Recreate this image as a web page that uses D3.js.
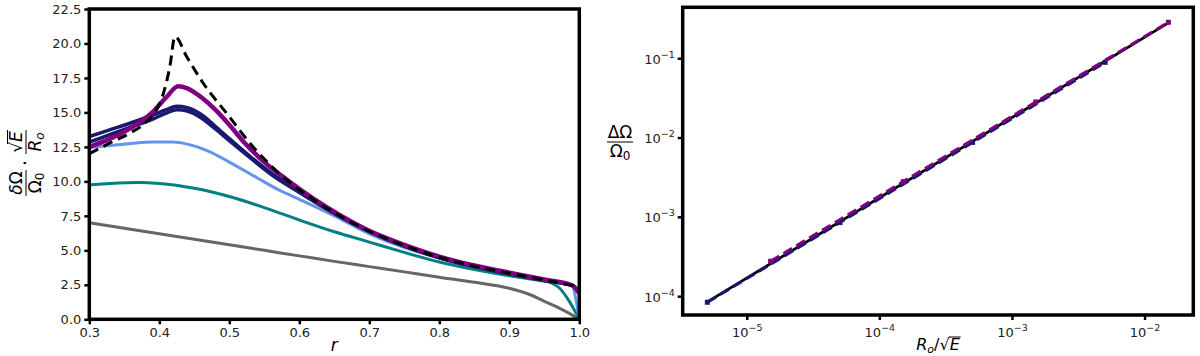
<!DOCTYPE html>
<html><head><meta charset="utf-8">
<script src="https://cdn.jsdelivr.net/npm/d3@7/dist/d3.min.js"></script>
<style>
body{margin:0;background:#fff;}
svg{display:block;font-family:"DejaVu Sans",sans-serif;}
</style></head>
<body>
<svg id="chart" width="1200" height="356"></svg>
<script>
// ---------- Left panel data ----------
const xTicksLeft = [0.3,0.4,0.5,0.6,0.7,0.8,0.9,1.0];
const yTicksLeft = [0,2.5,5,7.5,10,12.5,15,17.5,20,22.5];

const grayR = [0.30,0.35,0.40,0.45,0.50,0.55,0.60,0.65,0.70,0.75,0.80,0.85,0.90,0.93,0.95,0.97,0.985,1.00];
const grayV = [7.0,6.6,6.2,5.8,5.4,5.0,4.6,4.2,3.82,3.44,3.05,2.68,2.25,1.78,1.3,0.85,0.45,0.0];

const tealR = [0.30,0.33,0.37,0.40,0.45,0.50,0.55,0.60,0.65,0.70,0.75,0.80,0.85,0.90,0.93,0.95,0.96,0.972,0.986,1.00];
const tealV = [9.75,9.85,9.92,9.85,9.5,8.9,8.1,7.2,6.35,5.6,4.85,4.15,3.6,3.15,2.92,2.78,2.65,2.25,1.28,0.0];

const blueR = [0.30,0.33,0.36,0.39,0.42,0.44,0.47,0.50,0.54,0.57,0.60,0.65,0.70,0.75,0.80,0.85,0.90,0.95,0.98,0.99,0.995,1.00];
const blueV = [12.45,12.6,12.75,12.85,12.85,12.7,12.2,11.4,10.25,9.4,8.7,7.5,6.2,5.2,4.45,3.8,3.3,2.8,2.55,2.45,1.5,0.0];

const navyR = [0.30,0.33,0.36,0.39,0.41,0.425,0.44,0.46,0.48,0.50,0.53,0.56,0.60,0.65,0.70,0.75,0.80,0.85,0.90,0.95,0.99,1.00];
const navyAV = [13.25,13.75,14.25,14.8,15.2,15.45,15.35,14.85,14.0,13.1,11.8,10.6,9.25,7.7,6.38,5.32,4.47,3.82,3.3,2.82,2.45,1.85];
const navyBV = [12.85,13.4,13.95,14.5,14.95,15.2,15.1,14.6,13.8,12.95,11.7,10.5,9.2,7.68,6.36,5.3,4.46,3.81,3.3,2.82,2.45,1.85];

const purpleR = [0.30,0.33,0.36,0.39,0.41,0.427,0.44,0.46,0.48,0.50,0.52,0.55,0.58,0.62,0.66,0.70,0.75,0.80,0.85,0.90,0.95,0.99,1.00];
const purpleV = [12.5,13.1,13.9,15.0,16.1,16.9,16.75,16.1,15.2,14.1,12.9,11.4,10.2,8.75,7.5,6.42,5.4,4.55,3.9,3.38,2.88,2.45,1.95];

const dashR = [0.30,0.33,0.358,0.382,0.396,0.406,0.415,0.4224,0.439,0.463,0.496,0.534,0.582,0.62,0.66,0.70,0.75,0.80,0.85,0.90,0.95,1.00];
const dashV = [12.0,12.8,13.5,14.34,15.19,16.4,18.3,20.5,19.06,17.1,14.95,12.5,10.1,8.7,7.45,6.38,5.35,4.5,3.85,3.34,2.85,2.37];

// ---------- Right panel data ----------
const xTickExpRight = [-5,-4,-3,-2];
const yTickExpRight = [-4,-3,-2,-1];
const navyX = [5e-6,5e-5,5e-4,5e-3];
const navyY = [8.5e-5,8.6e-4,8.8e-3,9.0e-2];
const purpleX = [1.5e-5,1.5e-4,1.5e-3,1.5e-2];
const purpleY = [2.8e-4,2.82e-3,2.85e-2,0.288];
const theoryX = [5e-6,1.5e-2];
const theoryY = [8.6e-5,0.283];

const svg = d3.select("#chart");

// ================= LEFT PANEL =================
const L = {x0:89.3, x1:579.3, y0:9, y1:319.3};
const xL = d3.scaleLinear().domain([0.3,1.0]).range([L.x0,L.x1]);
const yL = d3.scaleLinear().domain([0,22.5]).range([L.y1,L.y0]);
const gL = svg.append("g");
svg.append("clipPath").attr("id","clipL").append("rect")
  .attr("x",L.x0).attr("y",L.y0).attr("width",L.x1-L.x0).attr("height",L.y1-L.y0+2);

const lineL = d3.line().x(d=>xL(d[0])).y(d=>yL(d[1])).curve(d3.curveMonotoneX);
function zip(a,b){return a.map((v,i)=>[v,b[i]]);}
const seriesL = [
  {r:grayR, v:grayV, c:"#666666", w:3},
  {r:tealR, v:tealV, c:"#008080", w:3},
  {r:blueR, v:blueV, c:"#6495ED", w:3},
  {r:navyR, v:navyAV, c:"#191970", w:3.5},
  {r:navyR, v:navyBV, c:"#191970", w:3.5},
  {r:purpleR, v:purpleV, c:"#800080", w:4.5},
  {r:dashR, v:dashV, c:"#000000", w:3, dash:"10,6"}
];
const plotL = gL.append("g").attr("clip-path","url(#clipL)");
seriesL.forEach(s=>{
  plotL.append("path").attr("d",lineL(zip(s.r,s.v)))
    .attr("fill","none").attr("stroke",s.c).attr("stroke-width",s.w)
    .attr("stroke-dasharray",s.dash||null).attr("stroke-linejoin","round");
});

const axBL = gL.append("g").attr("transform",`translate(0,${L.y1})`)
  .call(d3.axisBottom(xL).tickValues(xTicksLeft).tickFormat(d3.format(".1f")).tickSize(5).tickPadding(3));
const axLL = gL.append("g").attr("transform",`translate(${L.x0},0)`)
  .call(d3.axisLeft(yL).tickValues(yTicksLeft).tickFormat(d3.format(".1f")).tickSize(5).tickPadding(3));
[axBL,axLL].forEach(a=>{
  a.select(".domain").remove();
  a.selectAll(".tick line").attr("stroke","#000").attr("stroke-width",2.5);
  a.selectAll(".tick text").attr("font-size",13).attr("fill","#222").attr("font-family","DejaVu Sans");
});
gL.append("rect").attr("x",L.x0).attr("y",L.y0).attr("width",L.x1-L.x0).attr("height",L.y1-L.y0)
  .attr("fill","none").attr("stroke","#000").attr("stroke-width",3.5);

// x label
gL.append("text").attr("x",(L.x0+L.x1)/2).attr("y",351).attr("text-anchor","middle")
  .attr("font-size",17).attr("font-style","italic").text("r");

// y label (rotated fractions)
const yLab = svg.append("g").attr("transform","translate(26,163) rotate(-90)").attr("font-size",17);
function frac(g,cx,numFn,denFn,w){
  const nt = g.append("text").attr("x",cx).attr("y",-4).attr("text-anchor","middle");
  numFn(nt);
  g.append("line").attr("x1",cx-w/2).attr("x2",cx+w/2).attr("y1",0).attr("y2",0).attr("stroke","#000").attr("stroke-width",1);
  const dt = g.append("text").attr("x",cx).attr("y",15).attr("text-anchor","middle");
  denFn(dt);
}
frac(yLab,-20,
  t=>{t.append("tspan").attr("font-style","italic").text("δ");t.append("tspan").text("Ω");},
  t=>{t.append("tspan").text("Ω");t.append("tspan").attr("font-size",12).attr("dy",3).text("0");},26);
yLab.append("text").attr("x",0).attr("y",6).attr("text-anchor","middle").attr("font-size",20).text("·");
frac(yLab,21,
  t=>{t.append("tspan").text("√");t.append("tspan").attr("font-style","italic").text("E");},
  t=>{t.append("tspan").attr("font-style","italic").text("R");t.append("tspan").attr("font-style","italic").attr("font-size",12).attr("dy",3).text("o");},24);
yLab.append("line").attr("x1",19).attr("x2",33).attr("y1",-18.5).attr("y2",-18.5).attr("stroke","#000").attr("stroke-width",1);

// ================= RIGHT PANEL =================
const R = {x0:682.7, x1:1193.3, y0:7.3, y1:315};
const xR = d3.scaleLog().domain([Math.pow(10,-5.487),Math.pow(10,-1.636)]).range([R.x0,R.x1]);
const yR = d3.scaleLog().domain([Math.pow(10,-4.231),Math.pow(10,-0.352)]).range([R.y1,R.y0]);
const gR = svg.append("g");
const lineR = d3.line().x(d=>xR(d[0])).y(d=>yR(d[1]));

gR.append("path").attr("d",lineR(zip(theoryX,theoryY))).attr("fill","none")
  .attr("stroke","#000").attr("stroke-width",2.8);
[{x:navyX,y:navyY,c:"#191970"},{x:purpleX,y:purpleY,c:"#800080"}].forEach(s=>{
  const pts = zip(s.x,s.y);
  gR.append("path").attr("d",lineR(pts)).attr("fill","none").attr("stroke",s.c)
    .attr("stroke-width",3).attr("stroke-dasharray","10,5");
  gR.selectAll(null).data(pts).enter().append("rect")
    .attr("x",d=>xR(d[0])-2.5).attr("y",d=>yR(d[1])-2.5).attr("width",5).attr("height",5).attr("fill",s.c);
});

// ticks
const xTickVals = xTickExpRight.map(e=>Math.pow(10,e));
const yTickVals = yTickExpRight.map(e=>Math.pow(10,e));
gR.selectAll(".xt").data(xTickVals).enter().append("line")
  .attr("x1",d=>xR(d)).attr("x2",d=>xR(d)).attr("y1",R.y1).attr("y2",R.y1+5)
  .attr("stroke","#000").attr("stroke-width",2.5);
gR.selectAll(".yt").data(yTickVals).enter().append("line")
  .attr("x1",R.x0-5).attr("x2",R.x0).attr("y1",d=>yR(d)).attr("y2",d=>yR(d))
  .attr("stroke","#000").attr("stroke-width",2.5);
xTickExpRight.forEach((e,i)=>{
  const t = gR.append("text").attr("x",xR(xTickVals[i])).attr("y",337).attr("text-anchor","middle")
    .attr("font-size",13).attr("fill","#222");
  t.append("tspan").text("10");
  t.append("tspan").attr("font-size",9.5).attr("dy",-6).text("−"+(-e));
});
yTickExpRight.forEach((e,i)=>{
  const t = gR.append("text").attr("x",R.x0-8).attr("y",yR(yTickVals[i])+5).attr("text-anchor","end")
    .attr("font-size",13).attr("fill","#222");
  t.append("tspan").text("10");
  t.append("tspan").attr("font-size",9.5).attr("dy",-6).text("−"+(-e));
});
gR.append("rect").attr("x",R.x0).attr("y",R.y0).attr("width",R.x1-R.x0).attr("height",R.y1-R.y0)
  .attr("fill","none").attr("stroke","#000").attr("stroke-width",3.5);

// x label R_o/√E
const xlab = gR.append("text").attr("x",(R.x0+R.x1)/2).attr("y",350).attr("text-anchor","middle").attr("font-size",16);
xlab.append("tspan").attr("font-style","italic").text("R");
xlab.append("tspan").attr("font-style","italic").attr("font-size",11).attr("dy",3).text("o");
xlab.append("tspan").attr("dy",-3).text("/√");
xlab.append("tspan").attr("font-style","italic").text("E");
const xbb = xlab.node().getBBox();
gR.append("line").attr("x1",xbb.x+xbb.width-12).attr("x2",xbb.x+xbb.width).attr("y1",xbb.y+2).attr("y2",xbb.y+2)
  .attr("stroke","#000").attr("stroke-width",1);

// y label ΔΩ/Ω0
const yRl = gR.append("g").attr("transform","translate(620,142)").attr("font-size",17);
frac(yRl,0,
  t=>{t.append("tspan").text("ΔΩ");},
  t=>{t.append("tspan").text("Ω");t.append("tspan").attr("font-size",12).attr("dy",3).text("0");},26);
</script>
</body></html>
